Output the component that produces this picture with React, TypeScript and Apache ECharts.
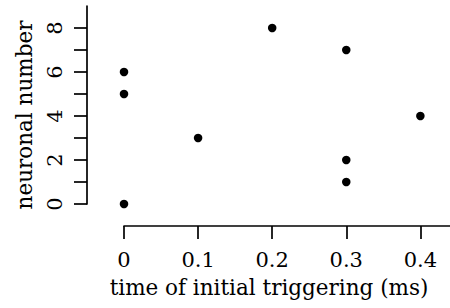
import React, { useEffect, useRef } from "react";
import * as echarts from "echarts";

const xTicks = [0, 0.1, 0.2, 0.3, 0.4];
const yTicks = [0, 1, 2, 3, 4, 5, 6, 7, 8];
const yLabels = [0, 2, 4, 6, 8];
const times = [0, 0, 0, 0.1, 0.2, 0.3, 0.3, 0.3, 0.4];
const neurons = [0, 5, 6, 3, 8, 7, 2, 1, 4];
const xTitle = "time of initial triggering (ms)";
const yTitle = "neuronal number";

const FONT = "DejaVu Serif";

export default function App() {
  const ref = useRef<HTMLDivElement>(null);
  useEffect(() => {
    if (!ref.current) return;
    const chart = echarts.init(ref.current, undefined, { renderer: "svg" });
    const axisStyle = { color: "#000", width: 1.7 };
    chart.setOption({
      animation: false,
      backgroundColor: "#fff",
      grid: { left: 124, right: 0, top: 6, bottom: 104, containLabel: false },
      xAxis: {
        type: "value",
        min: 0,
        max: 0.44,
        interval: 0.1,
        offset: 22,
        splitLine: { show: false },
        axisLine: { show: true, onZero: false, lineStyle: axisStyle },
        axisTick: { show: true, length: 13, lineStyle: axisStyle, customValues: xTicks },
        axisLabel: {
          customValues: xTicks,
          color: "#000",
          fontFamily: FONT,
          fontSize: 21,
          margin: 23,
        },
        name: xTitle,
        nameLocation: "middle",
        nameGap: 50,
        nameTextStyle: { color: "#000", fontFamily: FONT, fontSize: 21.5, padding: [0, 36, 0, 0] },
      },
      yAxis: {
        type: "value",
        min: 0,
        max: 9,
        interval: 1,
        offset: 37,
        splitLine: { show: false },
        axisLine: { show: true, onZero: false, lineStyle: axisStyle },
        axisTick: { show: true, length: 13, lineStyle: axisStyle, customValues: yTicks },
        axisLabel: {
          customValues: yLabels,
          rotate: 90,
          color: "#000",
          fontFamily: FONT,
          fontSize: 21,
          margin: 22,
        },
        name: yTitle,
        nameLocation: "middle",
        nameRotate: 90,
        nameGap: 52,
        nameTextStyle: { color: "#000", fontFamily: FONT, fontSize: 21.5, padding: [0, 20, 0, 0] },
      },
      series: [
        {
          type: "scatter",
          data: times.map((t, i) => [t, neurons[i]]),
          symbol: "circle",
          symbolSize: 8.5,
          itemStyle: { color: "#000", opacity: 1 },
        },
      ],
    });
    return () => chart.dispose();
  }, []);
  return (
    <div
      ref={ref}
      style={{ position: "fixed", left: 0, top: 0, width: 450, height: 308 }}
    />
  );
}
